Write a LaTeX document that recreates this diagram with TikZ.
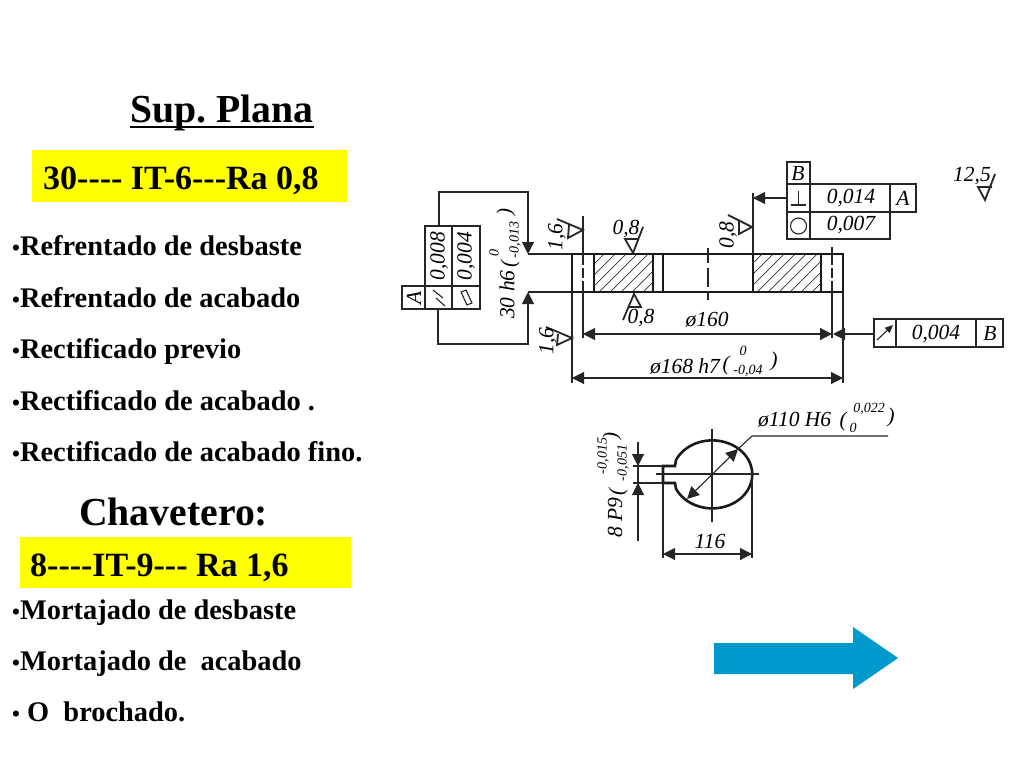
\documentclass[tikz,border=0pt]{standalone}
\usepackage{fontspec}
\setmainfont{Liberation Serif}
\usetikzlibrary{arrows.meta}
\definecolor{boxyellow}{RGB}{255,255,0}
\definecolor{arrowblue}{HTML}{0099CC}
\newcommand{\itemdot}{{\fontsize{22.5}{22}\selectfont •}}

\begin{document}
\begin{tikzpicture}[x=1pt, y=-1pt]
		\tikzset{
			title/.style={anchor=base west, font=\fontsize{39.7}{40}\selectfont\bfseries, inner sep=0},
			subtitle/.style={anchor=base west, font=\fontsize{34}{34}\selectfont\bfseries, inner sep=0},
			item/.style={anchor=base west, font=\fontsize{28.4}{28}\selectfont\bfseries, inner sep=0},
			dimtext/.style={inner sep=0, font=\fontsize{21.5}{21.5}\selectfont\itshape},
			paren/.style={inner sep=0, font=\fontsize{21}{21}\selectfont\itshape},
			toltext/.style={inner sep=0, font=\fontsize{14}{14}\selectfont\itshape},
			thinline/.style={line width=1.1pt, black!85},
			partline/.style={line width=2.6pt, black!90},
			hatchline/.style={line width=0.7pt, black!80},
			dim/.style={thinline, {Triangle[length=12pt,width=12pt]}-{Triangle[length=12pt,width=12pt]}},
			tip/.style={thinline, -{Triangle[length=12pt,width=12pt]}},
			rough/.style={line width=1.8pt, black!85, line join=miter}
		}
		\useasboundingbox (0,0) rectangle (1024,768);
		\fill[white] (0,0) rectangle (1024,768);

		% left column
		\fill[boxyellow] (32,150) rectangle (347,202);
		\fill[boxyellow] (20,537) rectangle (351,588);
		\node[title] (suptitle) at (130,122) {Sup.\ Plana};
		\draw[line width=2.6pt] ([yshift=-5pt]suptitle.base west) -- ([yshift=-5pt]suptitle.base east);
		\node[subtitle] (supcode) at (43,189) {30{-}{-}{-}{-} IT-6{-}{-}{-}Ra 0,8};
		\node[item] (item1) at (12,255) {\itemdot Refrentado de desbaste};
		\node[item] (item2) at (12,307) {\itemdot Refrentado de acabado};
		\node[item] (item3) at (12,358) {\itemdot Rectificado previo};
		\node[item] (item4) at (12,410) {\itemdot Rectificado de acabado .};
		\node[item] (item5) at (12,461) {\itemdot Rectificado de acabado fino.};
		\node[title] (chavtitle) at (79,525) {Chavetero:};
		\node[subtitle] (chavcode) at (30,576) {8{-}{-}{-}{-}IT-9{-}{-}{-} Ra 1,6};
		\node[item] (item6) at (12,619) {\itemdot Mortajado de desbaste};
		\node[item] (item7) at (12,670) {\itemdot Mortajado de\ \ acabado};
		\node[item] (item8) at (12,721) {\itemdot\ O\ \ brochado.};

		% part section
		\foreach \xa/\xb in {595/653, 753/821} {
			\begin{scope}
				\clip (\xa,254) rectangle (\xb,292);
				\foreach \k in {0,11,...,120}
					\draw[hatchline] (\xa-40+\k,292) -- (\xa+\k,252);
			\end{scope}
		}
		\draw[partline] (572,254) rectangle (843,292);
		\foreach \xa in {594,653,663,753,821}
			\draw[partline] (\xa,254) -- (\xa,292);
		\draw[thinline, dash pattern=on 15pt off 5pt on 19pt off 4pt on 9pt] (708,248) -- (708,300);
		\draw[thinline] (583,216) -- (583,265) (583,268) -- (583,278) (583,281) -- (583,338);
		\draw[thinline] (832,247) -- (832,265) (832,268) -- (832,278) (832,281) -- (832,338);
		\draw[thinline] (572,292) -- (572,383);
		\draw[thinline] (843,292) -- (843,383);
		\draw[thinline] (753,193) -- (753,254);

		% dimensions of the part
		\draw[dim] (583,334) -- (832,334);
		\draw[dim] (572,378) -- (843,378);
		\node[dimtext] (dia160) at (707,320) {ø160};
		\node[dimtext] (dia168) at (685,366) {ø168 h7};
		\node[paren] (par168a) at (726,365) {(};
		\node[toltext] (tol168a) at (743,351) {0};
		\node[toltext] (tol168b) at (748,371) {-0,04};
		\node[paren] (par168b) at (774,361) {)};

		% left control frame
		\draw[thinline] (402,286) rectangle (425,309);
		\draw[thinline] (425,226) rectangle (452,309);
		\draw[thinline] (452,226) rectangle (480,309);
		\draw[thinline] (425,286) -- (480,286);
		\node[dimtext, rotate=90] (frameA) at (414,298) {A};
		\node[dimtext, rotate=90] (frameval1) at (439,256) {0,008};
		\node[dimtext, rotate=90] (frameval2) at (466,256) {0,004};
		\draw[thinline] (433,290) -- (443,298) (436,298) -- (445,306);
		\draw[thinline] (461,292) -- (466,290) -- (472,303) -- (467,305) -- cycle;
		\draw[tip] (439,226) -- (439,192) -- (528,192) -- (528,254);
		\draw[tip] (438,309) -- (438,344) -- (528,344) -- (528,292);
		\draw[thinline] (528,254) -- (572,254) (528,292) -- (572,292);

		% 30 h6 tolerance
		\node[dimtext, rotate=90, anchor=west] (shaft30) at (507,319) {30 h6};
		\node[paren, rotate=90] (par30a) at (510,264) {(};
		\node[toltext, rotate=90] (tol30a) at (494,253) {0};
		\node[toltext, rotate=90] (tol30b) at (515,240) {-0,013};
		\node[paren, rotate=90] (par30b) at (506,212) {)};

		% roughness marks
		\draw[rough] (557,219) -- (583,230) -- (568,238) -- (569,225);
		\node[dimtext, rotate=90] (rough1) at (557,237) {1,6};
		\draw[rough] (643,227) -- (633,253) -- (625,239) -- (639,239);
		\node[dimtext] (rough2) at (626,229) {0,8};
		\draw[rough] (623,320) -- (634,294) -- (641,307) -- (628,307);
		\node[dimtext] (rough3) at (641,318) {0,8};
		\draw[rough] (546,327) -- (572,338) -- (557,345) -- (558,334);
		\node[dimtext, rotate=90] (rough4) at (548,341) {1,6};
		\draw[rough] (728,215) -- (752,227) -- (739,234) -- (739,221);
		\node[dimtext, rotate=90] (rough5) at (728,235) {0,8};
		\draw[rough] (995,174) -- (985,200) -- (978,187) -- (992,187);
		\node[dimtext] (rough6) at (972,176) {12,5};

		% upper right frame
		\draw[thinline] (787,162) rectangle (810,184);
		\draw[thinline] (787,184) rectangle (810,239);
		\draw[thinline] (810,184) rectangle (890,239);
		\draw[thinline] (890,184) rectangle (916,212);
		\draw[thinline] (787,212) -- (890,212);
		\node[dimtext] (frameB) at (798,173) {B};
		\node[dimtext] (frameval3) at (851,198) {0,014};
		\node[dimtext] (frameA2) at (903,198) {A};
		\node[dimtext] (frameval4) at (851,225) {0,007};
		\draw[thinline] (791,205) -- (806,205) (798.5,205) -- (798.5,191);
		\draw[thinline] (798.5,226) circle[radius=8];
		\draw[tip] (787,198) -- (753,198);

		% lower right frame
		\draw[thinline] (874,319) rectangle (1003,347);
		\draw[thinline] (896,319) -- (896,347) (976,319) -- (976,347);
		\node[dimtext] (frameval5) at (936,334) {0,004};
		\node[dimtext] (frameB2) at (990,333) {B};
		\draw[thinline, -{Triangle[length=8pt,width=7pt]}] (877,340) -- (893,325);
		\draw[tip] (874,334) -- (833,334);

		% hub view
		\draw[partline] (663,466) -- (675,466) -- (676,460) arc[start angle=-155, end angle=155, x radius=40, y radius=34] -- (675,483) -- (663,483) -- cycle;
		\draw[thinline] (656,474) -- (759,474);
		\draw[thinline] (712,428.5) -- (712,522);
		\draw[thinline, {Triangle[length=12pt,width=12pt]}-{Triangle[length=12pt,width=12pt]}] (738,449) -- (687,499);
		\draw[thinline] (738,449) -- (752,436) -- (888,436);
		\node[dimtext, anchor=west] (dia110) at (758,420) {ø110 H6};
		\node[paren] (par110a) at (843,421) {(};
		\node[toltext] (tol110a) at (869,409) {0,022};
		\node[toltext] (tol110b) at (853,428) {0};
		\node[paren] (par110b) at (891,417) {)};

		% hub dimensions
		\draw[thinline] (633,466) -- (663,466) (633,483) -- (663,483);
		\draw[tip] (638,442) -- (638,466);
		\draw[tip] (638,541) -- (638,483);
		\draw[thinline] (638,466) -- (638,483);
		\node[dimtext, rotate=90, anchor=west] (key8) at (615,538) {8 P9};
		\node[paren, rotate=90] (par8a) at (618,492) {(};
		\node[toltext, rotate=90] (tol8a) at (603,456) {-0,015};
		\node[toltext, rotate=90] (tol8b) at (623,463) {-0,051};
		\node[paren, rotate=90] (par8b) at (612,436) {)};
		\draw[thinline] (663,483) -- (663,558) (752,474) -- (752,558);
		\draw[dim] (663,554) -- (752,554);
		\node[dimtext] (dim116) at (710,541) {116};

		% next arrow
		\fill[arrowblue] (714,643) -- (853,643) -- (853,627) -- (898,658) -- (853,689) -- (853,674) -- (714,674) -- cycle;
	\end{tikzpicture}
\end{document}
